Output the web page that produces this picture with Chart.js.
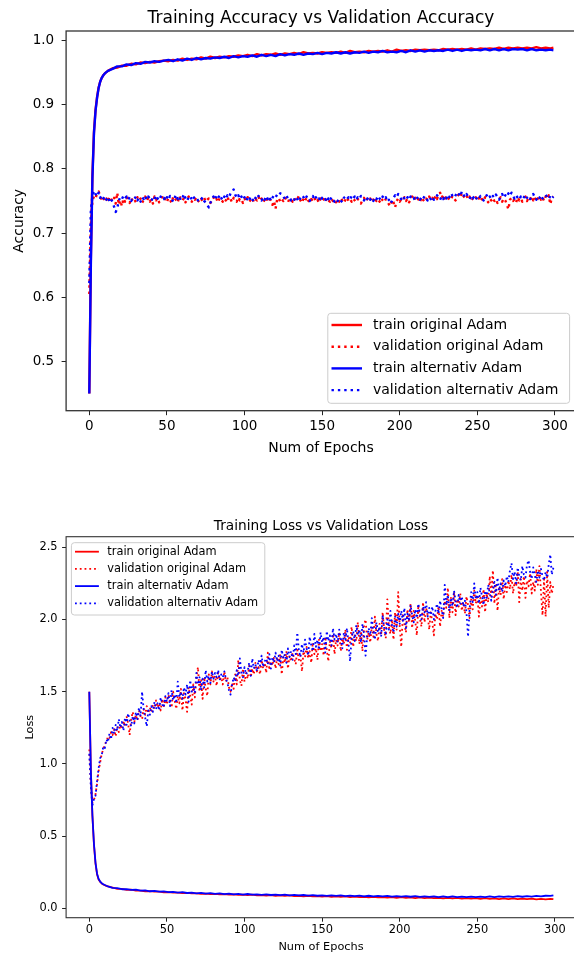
<!DOCTYPE html>
<html>
<head>
<meta charset="utf-8">
<script src="https://cdn.jsdelivr.net/npm/chart.js@4.4.1/dist/chart.umd.min.js"></script>
<style>
  html, body { margin: 0; padding: 0; background: #fff; overflow: hidden; width: 574px; height: 953px; }
  canvas { display: block; }
</style>
</head>
<body>
<canvas id="accChart" width="580" height="470"></canvas>
<canvas id="lossChart" width="580" height="483"></canvas>
<script>
// epochs at which the training curves are sampled
const trainEpochs = [0,1,2,3,4,5,6,7,8,9,10,11,12,
  15,18,21,24,27,30,33,36,39,42,45,
  48,51,54,57,60,63,66,69,72,75,
  78,81,84,87,90,93,96,99,102,105,
  108,111,114,117,120,123,126,129,132,135,
  138,141,144,147,150,153,156,159,162,165,
  168,171,174,177,180,183,186,189,192,195,
  198,201,204,207,210,213,216,219,222,225,
  228,231,234,237,240,243,246,249,252,255,
  258,261,264,267,270,273,276,279,282,285,
  288,291,294,297,299];

const accTrainOrig = [0.450,0.660,0.790,0.858,0.892,0.912,0.927,0.936,0.942,0.946,0.949,0.951,0.953,
  0.957,0.958,0.961,0.961,0.964,0.963,0.966,0.965,0.967,0.966,0.968,
  0.969,0.968,0.970,0.969,0.972,0.970,0.972,0.971,0.974,0.972,
  0.975,0.973,0.975,0.974,0.976,0.975,0.977,0.976,0.978,0.976,
  0.979,0.977,0.979,0.978,0.980,0.978,0.980,0.979,0.981,0.979,
  0.982,0.980,0.981,0.980,0.982,0.981,0.982,0.981,0.983,0.981,
  0.984,0.982,0.983,0.982,0.984,0.983,0.984,0.983,0.985,0.983,
  0.986,0.984,0.985,0.984,0.986,0.985,0.986,0.985,0.986,0.985,
  0.987,0.986,0.987,0.986,0.987,0.986,0.988,0.986,0.988,0.987,
  0.988,0.987,0.989,0.987,0.989,0.988,0.989,0.988,0.989,0.988,
  0.990,0.988,0.989,0.988,0.989];

const accTrainAlt = [0.450,0.650,0.785,0.855,0.890,0.911,0.926,0.936,0.942,0.946,0.949,0.951,0.953,
  0.956,0.960,0.960,0.963,0.962,0.965,0.964,0.967,0.966,0.968,0.967,
  0.969,0.970,0.968,0.971,0.969,0.972,0.970,0.973,0.971,0.973,
  0.972,0.974,0.973,0.975,0.973,0.976,0.974,0.976,0.975,0.977,
  0.975,0.978,0.976,0.978,0.976,0.979,0.977,0.979,0.978,0.980,
  0.978,0.980,0.979,0.981,0.979,0.981,0.980,0.982,0.980,0.982,
  0.980,0.982,0.981,0.983,0.981,0.983,0.982,0.984,0.982,0.983,
  0.982,0.984,0.982,0.985,0.983,0.985,0.983,0.985,0.984,0.985,
  0.984,0.986,0.984,0.986,0.984,0.986,0.985,0.986,0.985,0.987,
  0.985,0.987,0.985,0.987,0.985,0.987,0.986,0.987,0.985,0.987,
  0.985,0.986,0.985,0.986,0.985];

const accValOrig = [
  0.605,0.712,0.751,0.757,0.754,0.762,0.765,0.758,0.752,0.756,
  0.750,0.754,0.748,0.757,0.753,0.749,0.755,0.746,0.763,0.744,
  0.751,0.742,0.754,0.749,0.756,0.752,0.747,0.755,0.750,0.753,
  0.748,0.756,0.751,0.754,0.747,0.752,0.757,0.750,0.755,0.749,
  0.753,0.746,0.757,0.751,0.755,0.748,0.752,0.756,0.750,0.754,
  0.749,0.755,0.752,0.747,0.756,0.751,0.753,0.748,0.758,0.752,
  0.750,0.755,0.748,0.753,0.757,0.751,0.749,0.754,0.752,0.756,
  0.751,0.748,0.753,0.750,0.755,0.749,0.752,0.754,0.747,0.751,
  0.756,0.750,0.753,0.748,0.755,0.752,0.749,0.754,0.751,0.757,
  0.750,0.753,0.748,0.755,0.752,0.749,0.756,0.751,0.753,0.747,
  0.754,0.750,0.756,0.749,0.752,0.755,0.748,0.753,0.751,0.757,
  0.750,0.754,0.748,0.752,0.756,0.749,0.753,0.751,0.744,0.750,
  0.738,0.752,0.755,0.749,0.753,0.750,0.756,0.751,0.748,0.754,
  0.752,0.749,0.755,0.750,0.753,0.758,0.751,0.747,0.754,0.750,
  0.756,0.751,0.748,0.753,0.750,0.755,0.749,0.752,0.747,0.754,
  0.750,0.753,0.748,0.755,0.751,0.749,0.754,0.750,0.752,0.748,
  0.753,0.749,0.755,0.751,0.747,0.752,0.756,0.750,0.753,0.749,
  0.754,0.751,0.748,0.753,0.750,0.746,0.752,0.755,0.749,0.753,
  0.750,0.754,0.748,0.752,0.756,0.750,0.753,0.749,0.755,0.751,
  0.748,0.753,0.750,0.745,0.742,0.752,0.748,0.740,0.750,0.754,
  0.749,0.753,0.751,0.756,0.750,0.754,0.748,0.752,0.757,0.751,
  0.755,0.750,0.753,0.748,0.756,0.752,0.749,0.754,0.751,0.757,
  0.752,0.755,0.750,0.758,0.753,0.760,0.763,0.755,0.759,0.754,
  0.757,0.752,0.756,0.753,0.758,0.754,0.751,0.757,0.760,0.756,
  0.763,0.758,0.755,0.759,0.753,0.757,0.750,0.754,0.752,0.756,
  0.751,0.755,0.749,0.753,0.750,0.756,0.752,0.748,0.754,0.751,
  0.755,0.750,0.753,0.747,0.752,0.756,0.749,0.754,0.751,0.745,
  0.737,0.752,0.755,0.750,0.753,0.748,0.756,0.751,0.754,0.749,
  0.753,0.757,0.750,0.755,0.752,0.758,0.751,0.756,0.749,0.754,
  0.758,0.752,0.756,0.750,0.757,0.753,0.759,0.745,0.755,0.757];

const accValAlt = [
  0.622,0.735,0.758,0.766,0.761,0.757,0.763,0.755,0.759,0.754,
  0.758,0.752,0.756,0.750,0.754,0.748,0.741,0.733,0.738,0.751,
  0.756,0.753,0.758,0.754,0.757,0.752,0.756,0.750,0.755,0.753,
  0.757,0.751,0.755,0.749,0.756,0.753,0.758,0.752,0.757,0.754,
  0.750,0.756,0.753,0.759,0.754,0.751,0.757,0.753,0.755,0.750,
  0.756,0.752,0.758,0.754,0.749,0.755,0.760,0.753,0.757,0.751,
  0.755,0.761,0.754,0.750,0.756,0.758,0.752,0.757,0.753,0.755,
  0.751,0.754,0.752,0.756,0.750,0.748,0.744,0.740,0.747,0.753,
  0.757,0.752,0.758,0.754,0.760,0.755,0.751,0.757,0.753,0.759,
  0.756,0.762,0.764,0.768,0.760,0.755,0.759,0.753,0.757,0.752,
  0.756,0.750,0.755,0.751,0.757,0.753,0.749,0.755,0.752,0.758,
  0.754,0.751,0.756,0.752,0.758,0.753,0.757,0.750,0.755,0.759,
  0.756,0.760,0.758,0.762,0.761,0.757,0.753,0.758,0.754,0.756,
  0.751,0.755,0.752,0.757,0.753,0.749,0.755,0.759,0.756,0.752,
  0.757,0.753,0.750,0.755,0.758,0.752,0.756,0.751,0.754,0.749,
  0.755,0.751,0.753,0.748,0.754,0.750,0.756,0.752,0.749,0.753,
  0.750,0.754,0.751,0.748,0.755,0.757,0.753,0.756,0.752,0.758,
  0.754,0.757,0.752,0.756,0.753,0.758,0.755,0.751,0.756,0.753,
  0.757,0.752,0.755,0.750,0.756,0.753,0.758,0.754,0.751,0.757,
  0.753,0.756,0.749,0.752,0.746,0.750,0.755,0.759,0.756,0.761,
  0.757,0.753,0.758,0.754,0.751,0.756,0.752,0.757,0.753,0.755,
  0.750,0.754,0.757,0.752,0.756,0.753,0.758,0.754,0.751,0.756,
  0.753,0.757,0.752,0.755,0.759,0.756,0.752,0.757,0.753,0.758,
  0.754,0.760,0.756,0.762,0.758,0.755,0.759,0.764,0.761,0.757,
  0.765,0.760,0.756,0.761,0.757,0.753,0.758,0.754,0.757,0.752,
  0.756,0.753,0.758,0.755,0.751,0.756,0.759,0.754,0.757,0.753,
  0.758,0.755,0.760,0.756,0.752,0.757,0.761,0.755,0.759,0.756,
  0.762,0.758,0.763,0.757,0.754,0.759,0.755,0.752,0.757,0.753,
  0.756,0.760,0.755,0.758,0.753,0.757,0.761,0.756,0.752,0.758,
  0.755,0.759,0.754,0.757,0.760,0.756,0.753,0.758,0.754,0.757];

const lossTrainOrig = [1.500,0.960,0.640,0.440,0.310,0.235,0.200,0.183,0.172,0.165,0.160,0.155,0.151,
  0.144,0.134,0.134,0.128,0.129,0.122,0.123,0.118,0.119,0.115,0.115,
  0.111,0.112,0.108,0.109,0.105,0.107,0.103,0.104,0.100,0.102,
  0.098,0.100,0.096,0.098,0.095,0.097,0.093,0.095,0.091,0.094,
  0.090,0.092,0.088,0.091,0.087,0.090,0.086,0.089,0.084,0.087,
  0.083,0.087,0.082,0.085,0.081,0.084,0.080,0.083,0.079,0.082,
  0.078,0.081,0.077,0.080,0.076,0.079,0.075,0.078,0.074,0.077,
  0.073,0.077,0.072,0.076,0.071,0.075,0.071,0.074,0.070,0.073,
  0.069,0.073,0.068,0.072,0.067,0.071,0.067,0.070,0.066,0.070,
  0.065,0.069,0.064,0.068,0.064,0.068,0.063,0.067,0.063,0.067,
  0.062,0.066,0.062,0.065,0.063];

const lossTrainAlt = [1.500,0.950,0.645,0.445,0.315,0.240,0.203,0.185,0.174,0.167,0.161,0.156,0.152,
  0.141,0.140,0.132,0.133,0.127,0.129,0.122,0.124,0.118,0.121,0.115,
  0.117,0.112,0.114,0.109,0.112,0.106,0.109,0.104,0.107,0.102,
  0.105,0.100,0.103,0.098,0.102,0.097,0.100,0.095,0.099,0.094,
  0.097,0.093,0.096,0.092,0.095,0.091,0.094,0.090,0.093,0.089,
  0.092,0.088,0.091,0.087,0.090,0.086,0.090,0.086,0.089,0.085,
  0.088,0.084,0.088,0.083,0.087,0.083,0.086,0.082,0.086,0.081,
  0.085,0.081,0.084,0.080,0.084,0.079,0.083,0.079,0.083,0.078,
  0.082,0.078,0.082,0.077,0.081,0.077,0.081,0.077,0.081,0.078,
  0.082,0.078,0.082,0.079,0.083,0.079,0.084,0.080,0.084,0.081,
  0.086,0.083,0.087,0.086,0.090];

const lossValOrig = [
  1.10,0.86,0.73,0.75,0.79,0.86,0.95,1.01,1.07,1.10,
  1.14,1.15,1.19,1.18,1.22,1.20,1.24,1.19,1.26,1.22,
  1.27,1.24,1.30,1.26,1.33,1.28,1.20,1.31,1.36,1.29,
  1.34,1.30,1.37,1.33,1.31,1.38,1.34,1.40,1.35,1.39,
  1.36,1.41,1.38,1.44,1.39,1.42,1.37,1.45,1.40,1.46,
  1.41,1.48,1.43,1.39,1.50,1.44,1.38,1.47,1.42,1.52,
  1.37,1.49,1.45,1.36,1.53,1.47,1.41,1.55,1.46,1.60,
  1.67,1.50,1.58,1.45,1.60,1.52,1.47,1.62,1.55,1.64,
  1.57,1.61,1.54,1.63,1.58,1.60,1.55,1.64,1.57,1.60,
  1.53,1.50,1.56,1.52,1.62,1.55,1.72,1.58,1.54,1.66,
  1.57,1.63,1.59,1.68,1.60,1.66,1.62,1.70,1.64,1.67,
  1.62,1.72,1.66,1.70,1.63,1.77,1.65,1.71,1.68,1.74,
  1.66,1.73,1.69,1.76,1.62,1.74,1.70,1.78,1.66,1.75,
  1.71,1.77,1.73,1.69,1.79,1.72,1.75,1.64,1.78,1.74,
  1.81,1.73,1.78,1.70,1.84,1.76,1.80,1.72,1.86,1.78,
  1.83,1.75,1.88,1.79,1.71,1.85,1.80,1.90,1.76,1.86,
  1.82,1.91,1.78,1.87,1.83,1.93,1.79,1.88,1.84,1.95,
  1.81,1.89,1.85,1.98,1.83,1.92,1.78,1.96,2.00,1.86,
  1.91,1.84,1.95,1.88,2.02,1.90,1.85,1.97,1.89,2.05,
  1.92,1.87,2.14,1.95,1.90,2.00,1.86,2.05,1.93,2.19,
  1.95,1.81,2.03,1.97,1.91,2.07,1.98,2.11,1.94,2.06,
  1.99,1.89,2.10,2.01,1.95,2.12,1.98,2.08,2.03,1.93,
  2.05,1.98,1.89,2.04,2.00,2.09,1.95,2.06,2.02,2.13,
  2.08,2.22,2.01,2.15,2.05,2.19,2.03,2.14,2.09,2.18,
  2.06,2.12,2.04,2.16,2.10,2.01,2.14,2.07,2.20,2.11,
  2.17,2.02,2.15,2.09,2.21,2.05,2.18,2.12,2.30,2.16,
  2.34,2.11,2.25,2.06,2.22,2.17,2.28,2.14,2.24,2.19,
  2.27,2.21,2.31,2.18,2.26,2.23,2.33,2.12,2.28,2.20,
  2.30,2.15,2.27,2.23,2.32,2.18,2.26,2.20,2.35,2.24,
  2.37,2.19,2.03,2.28,2.02,2.33,2.08,2.26,2.18,2.24];

const lossValAlt = [
  1.07,0.84,0.71,0.76,0.78,0.88,0.97,1.04,1.06,1.12,
  1.11,1.17,1.15,1.21,1.17,1.25,1.21,1.27,1.23,1.31,
  1.25,1.29,1.23,1.32,1.27,1.35,1.30,1.26,1.33,1.28,
  1.36,1.31,1.39,1.33,1.50,1.38,1.32,1.26,1.37,1.34,
  1.40,1.36,1.43,1.38,1.42,1.37,1.46,1.41,1.39,1.47,
  1.43,1.49,1.40,1.51,1.44,1.48,1.42,1.57,1.46,1.50,
  1.45,1.53,1.48,1.55,1.43,1.58,1.50,1.54,1.49,1.63,
  1.55,1.60,1.51,1.59,1.53,1.65,1.57,1.61,1.56,1.64,
  1.59,1.63,1.60,1.65,1.58,1.62,1.60,1.64,1.59,1.56,
  1.51,1.48,1.55,1.60,1.57,1.65,1.61,1.73,1.63,1.60,
  1.67,1.62,1.64,1.70,1.61,1.73,1.66,1.69,1.64,1.72,
  1.68,1.75,1.67,1.71,1.73,1.69,1.76,1.66,1.74,1.70,
  1.77,1.71,1.75,1.68,1.79,1.73,1.76,1.70,1.80,1.74,
  1.78,1.72,1.82,1.76,1.91,1.79,1.74,1.83,1.77,1.86,
  1.80,1.75,1.88,1.82,1.78,1.90,1.81,1.86,1.79,1.91,
  1.84,1.88,1.77,1.92,1.85,1.89,1.82,1.94,1.86,1.90,
  1.84,1.93,1.87,1.80,1.91,1.86,1.94,1.83,1.71,1.88,
  1.92,1.85,1.96,1.89,1.93,1.84,1.97,1.90,1.75,1.88,
  1.94,1.89,2.01,1.92,1.86,1.98,1.91,1.95,1.88,2.03,
  1.94,1.89,2.00,1.93,2.06,1.96,1.91,2.02,1.95,2.04,
  1.97,2.06,1.99,2.08,1.94,2.04,2.00,2.10,2.03,1.98,
  2.07,2.01,2.11,2.04,2.00,2.09,2.05,2.12,2.02,2.08,
  2.03,2.09,2.00,2.06,2.11,2.04,2.13,2.07,2.01,2.24,
  2.10,2.17,2.06,2.15,2.09,2.20,2.12,2.08,2.17,2.11,
  2.16,2.09,2.13,2.05,1.88,2.07,2.19,2.12,2.25,2.14,
  2.19,2.11,2.22,2.16,2.10,2.20,2.15,2.24,2.18,2.13,
  2.21,2.26,2.17,2.29,2.20,2.25,2.19,2.27,2.23,2.30,
  2.26,2.34,2.39,2.28,2.33,2.25,2.36,2.30,2.27,2.37,
  2.31,2.29,2.38,2.41,2.33,2.28,2.36,2.31,2.26,2.34,
  2.29,2.35,2.30,2.27,2.33,2.29,2.38,2.45,2.31,2.36];

const xTicks = [0, 50, 100, 150, 200, 250, 300];
const accTicks = [0.5, 0.6, 0.7, 0.8, 0.9, 1.0];
const lossTicks = [0.0, 0.5, 1.0, 1.5, 2.0, 2.5];
const seriesNames = ["train original Adam", "validation original Adam", "train alternativ Adam", "validation alternativ Adam"];

const RED = "#ff0000";
const BLUE = "#0000ff";
const FONT = "'DejaVu Sans', sans-serif";

function trainPoints(values) {
  return trainEpochs.map((e, i) => ({ x: e, y: values[i] }));
}
function epochPoints(values) {
  return values.map((v, i) => ({ x: i, y: v }));
}

function makeDatasets(trainO, valO, trainA, valA, lw) {
  const dot = [lw, lw * 1.65];
  const base = { pointRadius: 0, fill: false, tension: 0, borderWidth: lw, borderCapStyle: "butt", borderJoinStyle: "round" };
  return [
    { ...base, label: seriesNames[0], data: trainPoints(trainO), borderColor: RED, order: 3 },
    { ...base, label: seriesNames[1], data: epochPoints(valO), borderColor: RED, borderDash: dot, order: 2 },
    { ...base, label: seriesNames[2], data: trainPoints(trainA), borderColor: BLUE, order: 1 },
    { ...base, label: seriesNames[3], data: epochPoints(valA), borderColor: BLUE, borderDash: dot, order: 0 },
  ];
}

// frame, title, axis labels and legend placed like the matplotlib figure
const overlay = {
  id: "overlay",
  afterDraw(chart, args, o) {
    const ctx = chart.ctx;
    const a = chart.chartArea;
    ctx.save();
    ctx.strokeStyle = "#333";
    ctx.lineWidth = o.frameWidth;
    ctx.strokeRect(a.left, a.top, a.right - a.left, a.bottom - a.top);

    ctx.fillStyle = "#000";
    ctx.textAlign = "center";
    ctx.textBaseline = "alphabetic";
    ctx.font = o.titleSize + "px " + FONT;
    ctx.fillText(o.title, o.centerX, o.titleY);
    ctx.font = o.labelSize + "px " + FONT;
    ctx.fillText(o.xLabel, o.centerX, o.xLabelY);
    ctx.save();
    ctx.translate(o.yLabelX, (a.top + a.bottom) / 2);
    ctx.rotate(-Math.PI / 2);
    ctx.fillText(o.yLabel, 0, 0);
    ctx.restore();

    const L = o.legend;
    const r = 3;
    ctx.beginPath();
    ctx.moveTo(L.x + r, L.y);
    ctx.arcTo(L.x + L.w, L.y, L.x + L.w, L.y + L.h, r);
    ctx.arcTo(L.x + L.w, L.y + L.h, L.x, L.y + L.h, r);
    ctx.arcTo(L.x, L.y + L.h, L.x, L.y, r);
    ctx.arcTo(L.x, L.y, L.x + L.w, L.y, r);
    ctx.closePath();
    ctx.fillStyle = "rgba(255,255,255,0.8)";
    ctx.fill();
    ctx.strokeStyle = "#cccccc";
    ctx.lineWidth = 1;
    ctx.stroke();

    ctx.font = L.size + "px " + FONT;
    ctx.textAlign = "left";
    ctx.textBaseline = "middle";
    chart.data.datasets.forEach((ds, i) => {
      const y = L.rowY + i * L.step;
      ctx.beginPath();
      ctx.setLineDash(ds.borderDash || []);
      ctx.lineWidth = ds.borderWidth;
      ctx.strokeStyle = ds.borderColor;
      ctx.moveTo(L.lineX0, y);
      ctx.lineTo(L.lineX1, y);
      ctx.stroke();
      ctx.setLineDash([]);
      ctx.fillStyle = "#000";
      ctx.fillText(ds.label, L.textX, y);
    });
    ctx.restore();
  }
};

function makeOptions(c) {
  return {
    responsive: false,
    animation: false,
    events: [],
    layout: { padding: c.padding },
    plugins: { legend: { display: false }, tooltip: { enabled: false }, overlay: c.overlay },
    scales: {
      x: {
        type: "linear",
        min: -14.95,
        max: 313.95,
        afterBuildTicks: s => { s.ticks = xTicks.map(v => ({ value: v })); },
        afterFit: s => { s.height = c.xHeight; },
        grid: { drawOnChartArea: false, drawTicks: true, tickLength: c.tickLen, tickColor: "#222", tickWidth: 1 },
        border: { display: false },
        ticks: { color: "#000", font: { family: FONT, size: c.tickSize }, padding: c.xPad, maxRotation: 0, autoSkip: false,
                 callback: v => String(v) }
      },
      y: {
        type: "linear",
        min: c.yMin,
        max: c.yMax,
        afterBuildTicks: s => { s.ticks = c.yTicks.map(v => ({ value: v })); },
        afterFit: s => { s.width = 66.1; },
        grid: { drawOnChartArea: false, drawTicks: true, tickLength: c.tickLen, tickColor: "#222", tickWidth: 1 },
        border: { display: false },
        ticks: { color: "#000", font: { family: FONT, size: c.tickSize }, padding: c.yPad, autoSkip: false,
                 callback: v => v.toFixed(1) }
      }
    }
  };
}

new Chart(document.getElementById("accChart"), {
  type: "line",
  data: { datasets: makeDatasets(accTrainOrig, accValOrig, accTrainAlt, accValAlt, 2.4) },
  options: makeOptions({
    padding: { left: 0, right: 3.4, top: 31, bottom: 29.3 },
    xHeight: 30, tickLen: 4.5, tickSize: 13.5, xPad: 3, yPad: 7.5,
    yMin: 0.4231, yMax: 1.0151, yTicks: accTicks,
    overlay: {
      frameWidth: 1.3, title: "Training Accuracy vs Validation Accuracy", titleSize: 17, titleY: 22.5, centerX: 321,
      xLabel: "Num of Epochs", xLabelY: 452, yLabel: "Accuracy", yLabelX: 23, labelSize: 14,
      legend: { x: 327.8, y: 313.3, w: 241.8, h: 90, rowY: 325, step: 21.7, lineX0: 331.5, lineX1: 362, textX: 372.9, size: 14 }
    }
  }),
  plugins: [overlay]
});

new Chart(document.getElementById("lossChart"), {
  type: "line",
  data: { datasets: makeDatasets(lossTrainOrig, lossValOrig, lossTrainAlt, lossValAlt, 1.8) },
  options: makeOptions({
    padding: { left: 0, right: 3.4, top: 66.7, bottom: 10.3 },
    xHeight: 25, tickLen: 4, tickSize: 11.4, xPad: 1.5, yPad: 4.5,
    yMin: -0.0651, yMax: 2.5734, yTicks: lossTicks,
    overlay: {
      frameWidth: 1.1, title: "Training Loss vs Validation Loss", titleSize: 13.7, titleY: 60, centerX: 321,
      xLabel: "Num of Epochs", xLabelY: 480, yLabel: "Loss", yLabelX: 33, labelSize: 11.3,
      legend: { x: 71.4, y: 72.7, w: 193.4, h: 72.3, rowY: 81.7, step: 17.2, lineX0: 75, lineX1: 98.9, textX: 107.3, size: 11.4 }
    }
  }),
  plugins: [overlay]
});
</script>
</body>
</html>
